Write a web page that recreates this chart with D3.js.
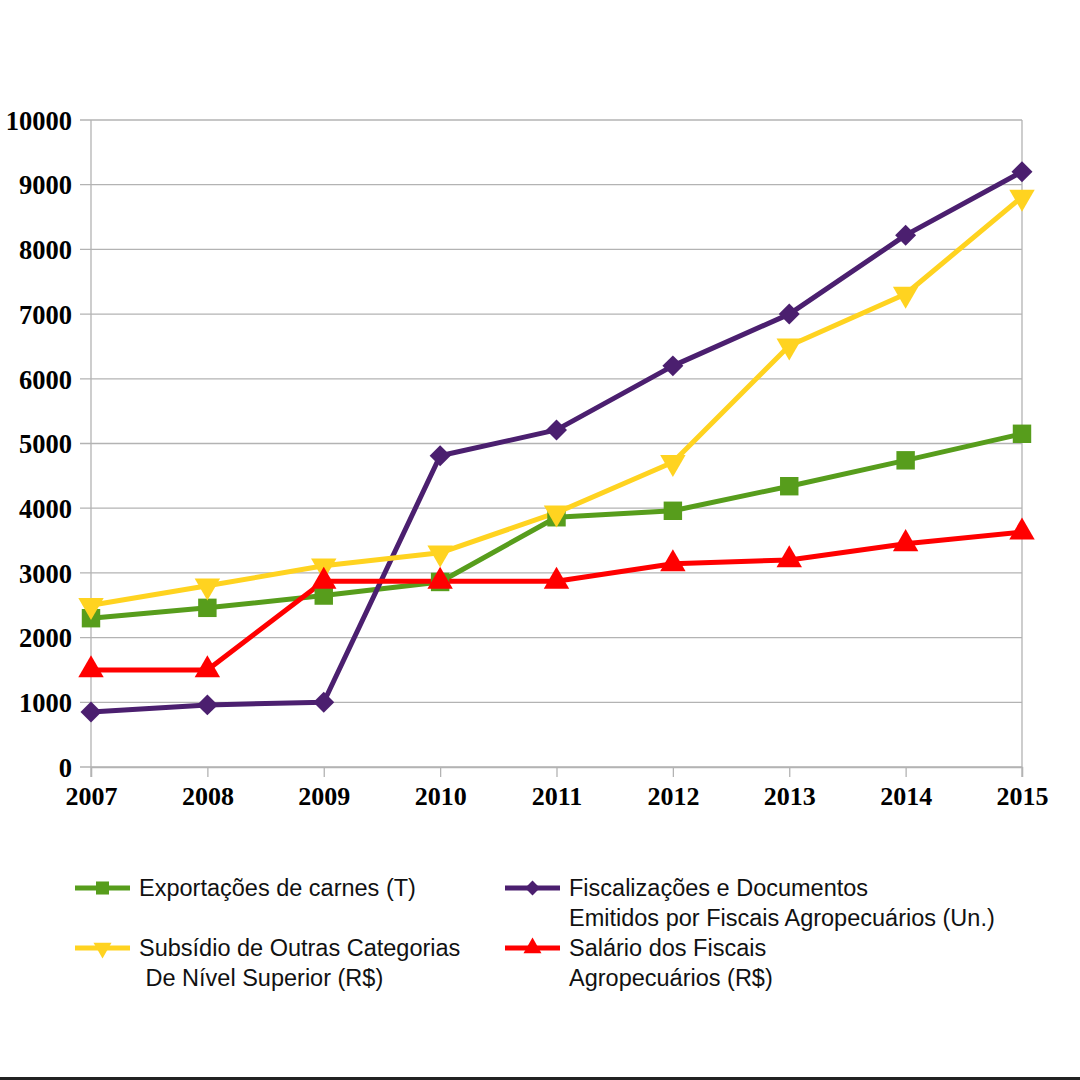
<!DOCTYPE html>
<html>
<head>
<meta charset="utf-8">
<script src="https://cdn.jsdelivr.net/npm/d3@7"></script>
<style>
  body { margin: 0; background: #fff; }
  svg { display: block; }
</style>
</head>
<body>
<svg id="chart" width="1080" height="1080"></svg>
<script>
// Data
const years = [2007, 2008, 2009, 2010, 2011, 2012, 2013, 2014, 2015];
const exportacoes = [2300, 2460, 2650, 2860, 3860, 3960, 4340, 4740, 5150];
const fiscalizacoes = [850, 960, 1000, 4810, 5210, 6200, 7000, 8220, 9200];
const subsidio = [2500, 2800, 3110, 3310, 3930, 4710, 6510, 7310, 8810];
const salario = [1500, 1500, 2870, 2870, 2870, 3140, 3200, 3450, 3630];
const yTicks = [0, 1000, 2000, 3000, 4000, 5000, 6000, 7000, 8000, 9000, 10000];

const series = [
  { name: ['Exportações de carnes (T)'], values: exportacoes, color: '#579d1c', symbol: d3.symbolSquare, size: 340 },
  { name: ['Fiscalizações e Documentos', 'Emitidos por Fiscais Agropecuários (Un.)'], values: fiscalizacoes, color: '#4b1f6f', symbol: d3.symbolDiamond2, size: 280 },
  { name: ['Subsídio de Outras Categorias', ' De Nível Superior (R$)'], values: subsidio, color: '#ffd320', symbol: d3.symbolTriangle, size: 280, flip: true },
  { name: ['Salário dos Fiscais', 'Agropecuários (R$)'], values: salario, color: '#ff0000', symbol: d3.symbolTriangle, size: 280 }
];

const svg = d3.select('#chart');

const x = d3.scalePoint()
  .domain(years)
  .range([91, 1022]);

const y = d3.scaleLinear()
  .domain([0, 10000])
  .range([767, 120]);

// horizontal grid
svg.append('g')
  .attr('class', 'grid')
  .selectAll('line')
  .data(yTicks)
  .join('line')
    .attr('x1', 80)
    .attr('x2', 1022)
    .attr('y1', d => y(d))
    .attr('y2', d => y(d))
    .attr('stroke', '#b3b3b3')
    .attr('stroke-width', 1.3);

// left and right borders
svg.append('line')
  .attr('x1', x(2007)).attr('x2', x(2007))
  .attr('y1', y(10000)).attr('y2', y(0) + 10)
  .attr('stroke', '#b3b3b3').attr('stroke-width', 1.3);
svg.append('line')
  .attr('x1', x(2015)).attr('x2', x(2015))
  .attr('y1', y(10000)).attr('y2', y(0) + 10)
  .attr('stroke', '#b3b3b3').attr('stroke-width', 1.3);

// y axis labels
const yAxis = svg.append('g')
  .attr('transform', 'translate(80,0)')
  .call(d3.axisLeft(y).tickValues(yTicks).tickSize(0).tickPadding(8).tickFormat(d3.format('d')));
yAxis.select('.domain').remove();
yAxis.selectAll('text')
  .attr('font-family', '"Liberation Serif", "Times New Roman", serif')
  .attr('font-weight', 'bold')
  .attr('font-size', 26.5)
  .attr('fill', '#000')
  .attr('dy', '0.35em');

// x axis
const xAxis = svg.append('g')
  .attr('transform', `translate(0,${y(0)})`)
  .call(d3.axisBottom(x).tickSize(10).tickPadding(10).tickFormat(d3.format('d')));
xAxis.select('.domain').attr('stroke', '#b3b3b3').attr('stroke-width', 1.3);
xAxis.selectAll('.tick line').attr('stroke', '#b3b3b3').attr('stroke-width', 1.3);
xAxis.selectAll('text')
  .attr('font-family', '"Liberation Serif", "Times New Roman", serif')
  .attr('font-weight', 'bold')
  .attr('font-size', 26)
  .attr('fill', '#000');

// lines and markers
const line = d3.line()
  .x((d, i) => x(years[i]))
  .y(d => y(d));

series.forEach(s => {
  svg.append('path')
    .datum(s.values)
    .attr('d', line)
    .attr('fill', 'none')
    .attr('stroke', s.color)
    .attr('stroke-width', 5)
    .attr('stroke-linejoin', 'round');
});

series.forEach(s => {
  svg.append('g')
    .selectAll('path')
    .data(s.values)
    .join('path')
      .attr('d', d3.symbol(s.symbol, s.size))
      .attr('transform', (d, i) => `translate(${x(years[i])},${y(d)})${s.flip ? ' rotate(180)' : ''}`)
      .attr('fill', s.color);
});

// legend
const legendPos = [[75, 888], [505, 888], [75, 948], [505, 948]];
const legend = svg.append('g')
  .selectAll('g')
  .data(series)
  .join('g')
    .attr('transform', (d, i) => `translate(${legendPos[i][0]},${legendPos[i][1]})`);

legend.append('line')
  .attr('x1', 0).attr('x2', 55)
  .attr('stroke', d => d.color)
  .attr('stroke-width', 5);
legend.append('path')
  .attr('d', d => d3.symbol(d.symbol, d.size * 0.5)())
  .attr('transform', d => `translate(27.5,0)${d.flip ? ' rotate(180)' : ''}`)
  .attr('fill', d => d.color);
legend.each(function(d) {
  d3.select(this).selectAll('text')
    .data(d.name)
    .join('text')
      .attr('x', 64)
      .attr('y', (t, i) => 8 + i * 30)
      .attr('font-family', '"Liberation Sans", Arial, sans-serif')
      .attr('font-size', 23.5)
      .attr('fill', '#111')
      .style('white-space', 'pre')
      .text(t => t);
});

// dark strip at the bottom
svg.append('rect')
  .attr('x', 0).attr('y', 1077)
  .attr('width', 1080).attr('height', 3)
  .attr('fill', '#222');
</script>
</body>
</html>
